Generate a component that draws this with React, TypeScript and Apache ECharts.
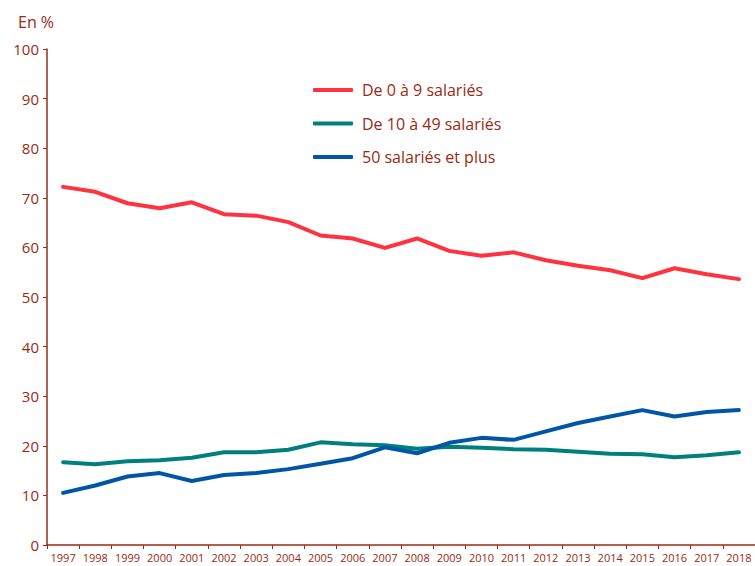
import React, { useEffect, useRef } from "react";
import * as echarts from "echarts";

const years = ["1997","1998","1999","2000","2001","2002","2003","2004","2005","2006","2007","2008","2009","2010","2011","2012","2013","2014","2015","2016","2017","2018"];
const small = [72.2,71.2,68.9,67.9,69.1,66.7,66.4,65.1,62.4,61.8,59.9,61.8,59.3,58.3,59.0,57.4,56.3,55.4,53.8,55.8,54.6,53.6];
const medium = [16.7,16.3,16.9,17.1,17.6,18.7,18.7,19.2,20.7,20.3,20.1,19.4,19.8,19.6,19.3,19.2,18.8,18.4,18.3,17.7,18.1,18.7];
const large = [10.5,12.0,13.8,14.5,12.9,14.1,14.5,15.3,16.4,17.5,19.7,18.5,20.6,21.6,21.2,22.9,24.6,25.9,27.2,25.9,26.8,27.2];
const seriesNames = ["De 0 à 9 salariés","De 10 à 49 salariés","50 salariés et plus"];
const colors = ["#FF3340","#00807D","#0055A5"];
const textColor = "#9B2A14";
const font = "'Open Sans', 'Noto Sans', sans-serif";

export default function App() {
  const ref = useRef<HTMLDivElement>(null);
  useEffect(() => {
    const chart = echarts.init(ref.current!, null, { renderer: "svg" });
    const data = [small, medium, large];
    chart.setOption({
      animation: false,
      textStyle: { fontFamily: font },
      grid: { left: 47, right: 0, top: 49, bottom: 21, containLabel: false },
      graphic: [
        { type: "text", left: 18, top: 14, style: { text: "En %", fill: textColor, font: `16px ${font}` } },
      ],
      legend: {
        orient: "vertical",
        left: 308,
        top: 77,
        itemWidth: 40,
        itemHeight: 4,
        itemGap: 17.5,
        icon: "roundRect",
        textStyle: { color: textColor, fontSize: 16, fontFamily: font, padding: [0, 0, 0, 4] },
        data: seriesNames,
      },
      xAxis: {
        type: "category",
        data: years,
        boundaryGap: true,
        axisLine: { lineStyle: { color: textColor, width: 1.5 } },
        axisTick: { show: true, length: 4, lineStyle: { color: textColor } },
        axisLabel: { color: textColor, fontSize: 11, margin: 7, interval: 0, fontFamily: font },
      },
      yAxis: {
        type: "value",
        min: 0,
        max: 100,
        interval: 10,
        splitLine: { show: false },
        axisLine: { show: true, lineStyle: { color: textColor, width: 1.5 } },
        axisTick: { show: true, length: 4, lineStyle: { color: textColor } },
        axisLabel: { color: textColor, fontSize: 15, margin: 8, fontFamily: font },
      },
      series: seriesNames.map((name, i) => ({
        name,
        type: "line",
        data: data[i],
        symbol: "none",
        showSymbol: false,
        lineStyle: { color: colors[i], width: 4, cap: "round", join: "round" },
        itemStyle: { color: colors[i] },
      })),
    });
    return () => chart.dispose();
  }, []);
  return <div ref={ref} style={{ width: 755, height: 566, position: "absolute", left: 0, top: 0 }} />;
}
